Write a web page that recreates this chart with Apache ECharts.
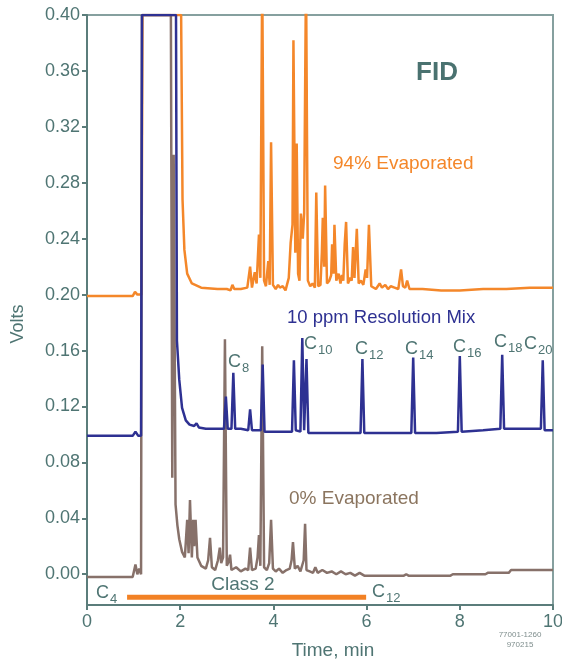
<!DOCTYPE html>
<html>
<head>
<meta charset="utf-8">
<script src="https://cdn.jsdelivr.net/npm/echarts@6/dist/echarts.min.js"></script>
<style>
  html, body { margin: 0; padding: 0; background: #ffffff; }
  #chart { width: 562px; height: 660px; }
</style>
</head>
<body>
<div id="chart"></div>
<script>
// FID chromatograms: [time (min), signal (V)]
const evaporated94 = [
  [0,0.199],[0.98,0.199],[1.03,0.202],[1.08,0.2],[1.17,0.2],[1.19,0.40],[2.02,0.40],[2.05,0.268],
  [2.09,0.232],[2.15,0.215],[2.25,0.208],[2.45,0.205],[2.8,0.204],[3.0,0.204],[3.08,0.203],[3.12,0.207],
  [3.16,0.204],[3.3,0.204],[3.44,0.205],[3.5,0.22],[3.54,0.205],[3.6,0.216],[3.64,0.208],[3.69,0.243],
  [3.72,0.212],[3.76,0.43],[3.80,0.21],[3.84,0.206],[3.89,0.224],[3.92,0.207],[3.95,0.309],[3.99,0.207],
  [4.05,0.204],[4.1,0.207],[4.14,0.205],[4.2,0.206],[4.26,0.203],[4.33,0.212],[4.37,0.237],[4.41,0.25],
  [4.43,0.382],[4.47,0.23],[4.5,0.308],[4.53,0.215],[4.56,0.21],[4.59,0.258],[4.63,0.24],[4.66,0.258],
  [4.70,0.43],[4.74,0.21],[4.79,0.206],[4.84,0.208],[4.89,0.205],[4.92,0.273],[4.96,0.206],[5.01,0.207],
  [5.04,0.23],[5.06,0.255],[5.09,0.22],[5.11,0.278],[5.15,0.208],[5.2,0.21],[5.24,0.214],[5.26,0.236],
  [5.29,0.215],[5.31,0.25],[5.35,0.21],[5.4,0.215],[5.44,0.208],[5.47,0.214],[5.5,0.21],[5.53,0.236],
  [5.56,0.252],[5.6,0.208],[5.65,0.212],[5.68,0.21],[5.71,0.234],[5.74,0.212],[5.79,0.247],[5.83,0.208],
  [5.88,0.21],[5.93,0.207],[5.98,0.218],[6.01,0.212],[6.05,0.25],[6.1,0.206],[6.2,0.204],[6.28,0.208],
  [6.33,0.205],[6.4,0.207],[6.46,0.204],[6.52,0.206],[6.6,0.205],[6.68,0.204],[6.74,0.218],[6.78,0.206],
  [6.83,0.205],[6.87,0.21],[6.92,0.204],[7.2,0.204],[7.6,0.203],[8.0,0.203],[8.5,0.204],[9.0,0.204],
  [9.5,0.205],[10,0.205]
];

const resolutionMix = [
  [0,0.099],[0.98,0.099],[1.04,0.102],[1.10,0.099],[1.16,0.099],[1.18,0.40],[1.91,0.40],[1.93,0.167],
  [1.98,0.139],[2.04,0.119],[2.12,0.11],[2.2,0.107],[2.3,0.106],[2.35,0.108],[2.4,0.105],[2.55,0.104],
  [2.8,0.104],[2.94,0.104],[2.98,0.127],[3.02,0.104],[3.1,0.104],[3.14,0.144],[3.18,0.104],[3.3,0.104],
  [3.46,0.103],[3.5,0.118],[3.54,0.103],[3.73,0.103],[3.77,0.15],[3.81,0.102],[4.0,0.102],[4.2,0.102],
  [4.4,0.102],[4.44,0.153],[4.48,0.103],[4.58,0.102],[4.62,0.169],[4.66,0.103],[4.71,0.154],[4.75,0.101],
  [5.0,0.101],[5.5,0.101],[5.87,0.101],[5.91,0.154],[5.95,0.101],[6.5,0.101],[6.96,0.101],[7.0,0.155],
  [7.04,0.101],[7.5,0.101],[7.96,0.102],[8.0,0.156],[8.04,0.102],[8.5,0.103],[8.87,0.104],[8.91,0.157],
  [8.95,0.104],[9.4,0.104],[9.74,0.104],[9.78,0.153],[9.82,0.103],[10,0.103]
];

const evaporated0 = [
  [0,-0.002],[0.98,-0.002],[1.04,0.007],[1.08,0.0],[1.12,0.004],[1.16,0.0],[1.18,0.40],[1.80,0.40],
  [1.83,0.069],[1.86,0.30],[1.9,0.05],[1.94,0.035],[1.98,0.025],[2.04,0.016],[2.1,0.012],[2.15,0.039],
  [2.18,0.015],[2.21,0.053],[2.25,0.012],[2.28,0.039],[2.3,0.02],[2.33,0.039],[2.37,0.012],[2.45,0.006],
  [2.55,0.004],[2.6,0.01],[2.64,0.026],[2.68,0.005],[2.75,0.003],[2.81,0.01],[2.85,0.019],[2.88,0.008],
  [2.92,0.012],[2.96,0.168],[3.0,0.006],[3.04,0.009],[3.07,0.014],[3.1,0.003],[3.2,0.005],[3.3,0.002],
  [3.4,0.004],[3.46,0.003],[3.5,0.019],[3.54,0.003],[3.62,0.004],[3.66,0.012],[3.69,0.028],[3.72,0.006],
  [3.76,0.163],[3.80,0.005],[3.86,0.003],[3.91,0.008],[3.95,0.039],[3.99,0.004],[4.05,0.002],[4.12,0.004],
  [4.2,0.001],[4.28,0.003],[4.35,0.004],[4.39,0.01],[4.42,0.023],[4.46,0.004],[4.52,0.006],[4.58,0.002],
  [4.62,0.003],[4.65,0.01],[4.68,0.036],[4.71,0.003],[4.78,0.002],[4.85,0.001],[4.9,0.005],[4.95,0.001],
  [5.05,0.003],[5.15,0.001],[5.25,0.002],[5.35,0.0],[5.45,0.002],[5.55,0.0],[5.65,0.001],[5.75,-0.001],
  [5.85,0.001],[5.95,-0.001],[6.2,-0.001],[6.8,-0.001],[6.85,0.0],[6.9,-0.001],[7.8,-0.001],[7.85,0.0],
  [8.55,0.0],[8.6,0.001],[9.05,0.001],[9.1,0.003],[10,0.003]
];

// Class 2 elution window (C4 to C12), drawn just under the zero line
const class2Window = [[0.86,-0.0164],[5.99,-0.0164]];

const yTickValues = [0, 0.04, 0.08, 0.12, 0.16, 0.20, 0.24, 0.28, 0.32, 0.36, 0.40];
const xTickValues = [0, 2, 4, 6, 8, 10];

const AXIS = '#5b7d7b';
const TEXT = '#4f7573';
const ORANGE = '#f4872a';
const BLUE = '#2e3192';
const BROWN = '#87716a';
const FONT = '"Liberation Sans", Arial, sans-serif';

function txt(x, y, text, size, color, opts) {
  opts = opts || {};
  return {
    type: 'text', x: x, y: y, rotation: opts.rotation || 0, z: 100,
    style: {
      text: text,
      font: (opts.weight || 'normal') + ' ' + size + 'px ' + FONT,
      fill: color,
      align: opts.align || 'left',
      verticalAlign: 'middle'
    }
  };
}

// carbon-number tag: "C" with a subscript
function carbon(x, y, n) {
  return [txt(x, y, 'C', 18, TEXT), txt(x + 14, y + 6, n, 13, TEXT)];
}

const chart = echarts.init(document.getElementById('chart'), null, { renderer: 'canvas' });

chart.setOption({
  animation: false,
  backgroundColor: '#ffffff',
  grid: {
    left: 87, right: 9, top: 15, bottom: 55,
    outerBoundsMode: 'none', containLabel: false,
    show: true, borderColor: '#86a09f', borderWidth: 2, backgroundColor: 'transparent'
  },
  xAxis: {
    type: 'value', min: 0, max: 10, interval: 2,
    axisLine: { show: true, onZero: false, lineStyle: { color: AXIS, width: 2 } },
    axisTick: { show: true, length: 5, lineStyle: { color: AXIS, width: 2 } },
    axisLabel: { color: TEXT, fontSize: 18, fontFamily: FONT, margin: 8,
      customValues: xTickValues },
    splitLine: { show: false }
  },
  yAxis: {
    type: 'value', min: -0.022, max: 0.40,
    axisLine: { show: true, lineStyle: { color: AXIS, width: 2 } },
    axisTick: { show: true, length: 5, lineStyle: { color: AXIS, width: 2 },
      customValues: yTickValues },
    axisLabel: { color: TEXT, fontSize: 18, fontFamily: FONT, margin: 7,
      customValues: yTickValues,
      formatter: function (v) { return v.toFixed(2); } },
    splitLine: { show: false }
  },
  series: [
    { type: 'line', name: '94% Evaporated', data: evaporated94, showSymbol: false, z: 2,
      lineStyle: { color: ORANGE, width: 2.5 } },
    { type: 'line', name: '0% Evaporated', data: evaporated0, showSymbol: false, z: 3,
      lineStyle: { color: BROWN, width: 2.5 } },
    { type: 'line', name: '10 ppm Resolution Mix', data: resolutionMix, showSymbol: false, z: 4,
      lineStyle: { color: BLUE, width: 2.5 } },
    { type: 'line', name: 'Class 2', data: class2Window, showSymbol: false, z: 5,
      lineStyle: { color: '#f28124', width: 5 } }
  ],
  graphic: [
    txt(437, 73, 'FID', 26, '#4a7270', { weight: 'bold', align: 'center' }),
    txt(333, 164, '94% Evaporated', 19, ORANGE),
    txt(287, 318, '10 ppm Resolution Mix', 18.5, BLUE),
    txt(289, 499, '0% Evaporated', 19, '#8b755f'),
    txt(243, 585, 'Class 2', 19, TEXT, { align: 'center' }),
    txt(18, 324, 'Volts', 18, TEXT, { align: 'center', rotation: Math.PI / 2 }),
    txt(333, 651, 'Time, min', 19, TEXT, { align: 'center' }),
    txt(520, 635, '77001-1260', 8, '#7f8e8d', { align: 'center' }),
    txt(520, 645, '970215', 8, '#7f8e8d', { align: 'center' })
  ]
    .concat(carbon(228, 362, '8'))
    .concat(carbon(304, 344, '10'))
    .concat(carbon(355, 349, '12'))
    .concat(carbon(405, 349, '14'))
    .concat(carbon(453, 347, '16'))
    .concat(carbon(494, 342, '18'))
    .concat(carbon(524, 344, '20'))
    .concat(carbon(96, 593, '4'))
    .concat(carbon(372, 592, '12'))
});
</script>
</body>
</html>
